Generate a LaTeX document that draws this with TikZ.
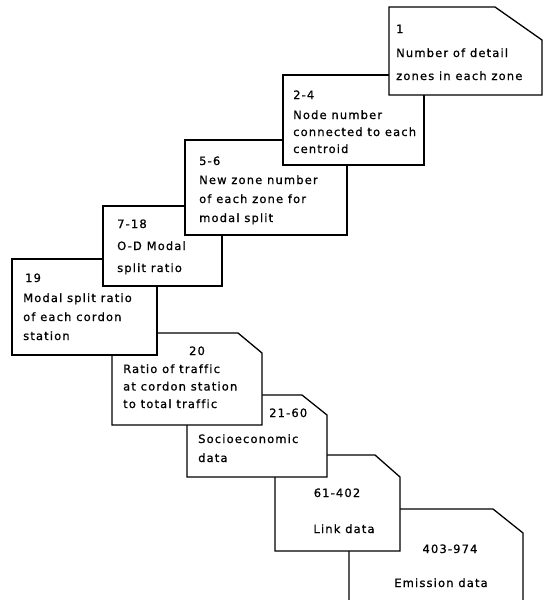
\documentclass[tikz,border=0pt]{standalone}
\usepackage{fontspec}
\setmainfont{DejaVu Sans}[LetterSpace=10,FakeBold=0.8,Ligatures=NoCommon]

\begin{document}
\begin{tikzpicture}[x=1pt,y=-1pt,font=\fontsize{11.5}{19}\selectfont]
		\tikzstyle{card}=[draw=black, line width=1.3pt, fill=white]
		\tikzstyle{num}=[inner sep=0pt, anchor=base west]
		\tikzstyle{txt}=[inner sep=0pt, anchor=base west, align=left]

		\useasboundingbox (0,0) rectangle (553,600);

		% lowest card first, so each card lies on the one below it
		\draw [card] (349,600) -- (349,509) -- (493,509) -- (523,533) -- (523,600);
		\draw [card] (275,455) -- (375,455) -- (400,477) -- (400,551) -- (275,551) -- cycle;
		\draw [card] (187,395) -- (302,395) -- (327,415) -- (327,477) -- (187,477) -- cycle;
		\draw [card] (112,333) -- (238,333) -- (262,353) -- (262,425) -- (112,425) -- cycle;
		\draw [card] (12,259) rectangle (157,355);
		\draw [card] (103,206) rectangle (222,286);
		\draw [card] (185,140) rectangle (347,235);
		\draw [card] (283,75) rectangle (424,165);
		\draw [card] (389,7) -- (495,7) -- (542,40) -- (542,95) -- (389,95) -- cycle;

		% the text nodes sit on the baseline of their last line
		\node [num] (n1) at (396,33) {1};
		\node [txt,font=\fontsize{11.5}{23}\selectfont] (d1) at (396,80) {Number of detail\\zones in each zone};
		\node [num] (n2) at (293,99) {2-4};
		\node [txt,font=\fontsize{11.5}{17}\selectfont] (d2) at (293,153) {Node number\\connected to each\\centroid};
		\node [num] (n3) at (199,165) {5-6};
		\node [txt] (d3) at (199,222) {New zone number\\of each zone for\\modal split};
		\node [num] (n4) at (117,228) {7-18};
		\node [txt,font=\fontsize{11.5}{22}\selectfont] (d4) at (117,272) {O-D Modal\\split ratio};
		\node [num] (n5) at (25,282) {19};
		\node [txt] (d5) at (23,340) {Modal split ratio\\of each cordon\\station};
		\node [num,anchor=base] (n6) at (197,355) {20};
		\node [txt,font=\fontsize{11.5}{17.5}\selectfont] (d6) at (123,408) {Ratio of traffic\\at cordon station\\to total traffic};
		\node [num] (n7) at (269,417) {21-60};
		\node [txt] (d7) at (198,462) {Socioeconomic\\data};
		\node [num,anchor=base] (n8) at (337,497) {61-402};
		\node [num,anchor=base] (d8) at (344,533) {Link data};
		\node [num,anchor=base] (n9) at (450,553) {403-974};
		\node [num,anchor=base] (d9) at (441,587) {Emission data};
	\end{tikzpicture}
\end{document}
